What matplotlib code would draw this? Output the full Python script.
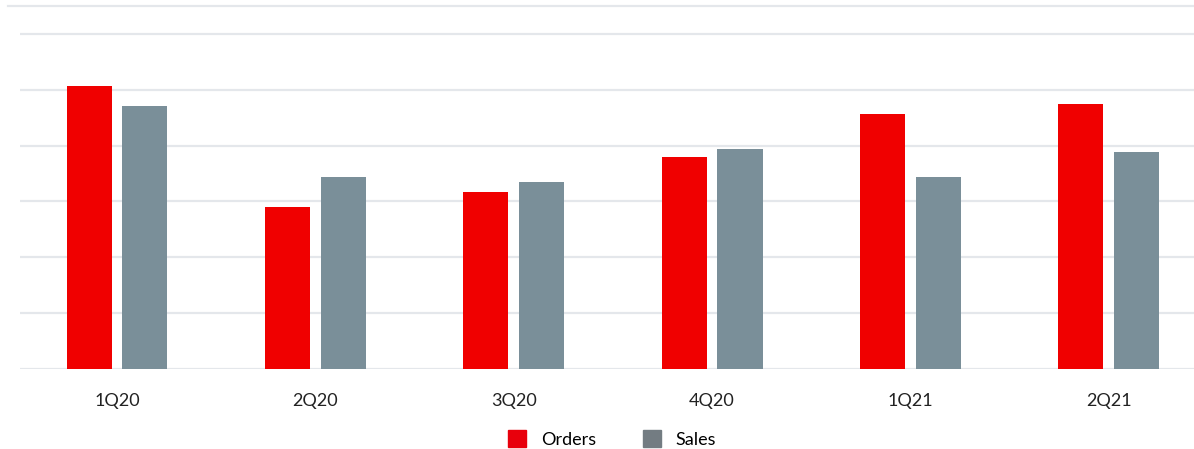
import matplotlib.pyplot as plt
import numpy as np
from matplotlib.patches import Patch

quarters = ['1Q20', '2Q20', '3Q20', '4Q20', '1Q21', '2Q21']
orders = [5.07, 2.90, 3.17, 3.80, 4.57, 4.75]
sales = [4.71, 3.44, 3.35, 3.94, 3.44, 3.89]

red = '#f00000'
grey = '#7a8f99'
grid_col = '#e4e7eb'

plt.rcParams['font.family'] = ['Lato', 'DejaVu Sans']

fig = plt.figure(figsize=(11.94, 4.49), dpi=100)
ax = fig.add_axes([20/1194, 80/449, 1174/1194, 363/449])

x = np.arange(len(quarters))
w = 0.227
off = 0.141
ax.bar(x - off, orders, width=w, color=red, zorder=3)
ax.bar(x + off, sales, width=w, color=grey, zorder=3)

ax.set_xlim(-0.489, 5.43)
ax.set_ylim(0, 6.5)
ax.set_yticks(range(0, 7))
ax.yaxis.grid(True, color=grid_col, linewidth=1.6, zorder=0)
ax.tick_params(axis='y', left=False, labelleft=False)
ax.tick_params(axis='x', bottom=False, labelsize=13, colors='#222222', pad=14)
ax.set_xticks(x)
ax.set_xticklabels(quarters)
for s in ['left', 'right', 'bottom']:
    ax.spines[s].set_visible(False)
ax.spines['top'].set_visible(False)
# top border line reaches a bit further left than the grid
ax.plot([-12/1174, 1], [1, 1], transform=ax.transAxes, color=grid_col,
        linewidth=1.6, clip_on=False)

handles = [Patch(color='#e8000c', label='Orders'), Patch(color='#737c82', label='Sales')]
fig.legend(handles=handles, loc='center', bbox_to_anchor=(612/1194, 1 - 439/449),
           ncol=2, frameon=False, fontsize=13, handlelength=1.0, handleheight=1.0,
           handletextpad=0.8, columnspacing=2.6)

plt.savefig('out.png', dpi=100)
